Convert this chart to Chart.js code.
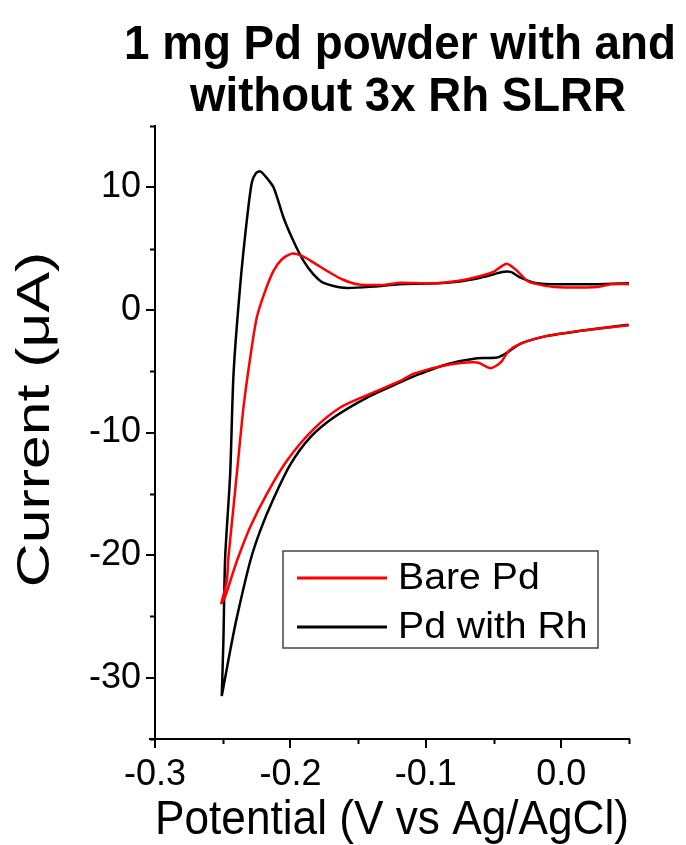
<!DOCTYPE html>
<html>
<head>
<meta charset="utf-8">
<script src="https://cdn.jsdelivr.net/npm/chart.js@4/dist/chart.umd.min.js"></script>
<style>
  html, body { margin: 0; padding: 0; background: #fff; }
  #wrap { width: 686px; height: 845px; position: relative; }
</style>
</head>
<body>
<div id="wrap"><canvas id="c" width="686" height="845"></canvas></div>
<script>
// ---- Data ----
const titleLines = ["1 mg Pd powder with and", "without 3x Rh SLRR"];
const seriesLabels = ["Bare Pd", "Pd with Rh"];
const xAxisTitle = "Potential (V vs Ag/AgCl)";
const yAxisTitle = "Current (\u03BCA)";
const xTickValues = [-0.3, -0.2, -0.1, 0.0];
const yTickValues = [-30, -20, -10, 0, 10];
const xMinorTicks = [-0.25, -0.15, -0.05, 0.05];
const yMinorTicks = [-35, -25, -15, -5, 5, 15];

// Bare Pd (potential V, current uA): anodic sweep, then (after the gap at the vertex) cathodic sweep
const bareX = [-0.2512, -0.247, -0.2458, -0.2416, -0.2396, -0.2347, -0.2297, -0.2248, -0.2186, -0.2125,
  -0.2063, -0.1989, -0.1915, -0.1829, -0.173, -0.1619, -0.1508, -0.1311, -0.1188, -0.0966,
  -0.0768, -0.0596, -0.05, -0.0404, -0.0325, -0.025, -0.0177, -0.0054, 0.0267, 0.0366, 0.05,
  0.05,
  0.05, 0.0143, -0.0103, -0.03, -0.0387, -0.0448, -0.0522, -0.0621, -0.0843, -0.1089,
  -0.1188, -0.1434, -0.1632, -0.1829, -0.2026, -0.2174, -0.2297, -0.2396, -0.2482, -0.2512];
const bareY = [-24.0, -22.1, -20.2, -15.6, -13.4, -8.0, -3.9, -0.6, 1.55, 3.18,
  4.13, 4.59, 4.4, 3.86, 3.18, 2.5, 2.1, 2.04, 2.22, 2.15,
  2.36, 2.77, 3.1, 3.77, 3.18, 2.36, 2.1, 1.87, 1.87, 2.1, 2.1,
  null,
  -1.25, -1.71, -2.12, -2.75, -3.34, -4.29, -4.75, -4.29, -4.5, -5.2,
  -5.79, -6.95, -7.96, -9.73, -12.3, -15.0, -17.7, -20.5, -23.4, -24.0];

// Pd with Rh
const rhX = [-0.2507, -0.2495, -0.2482, -0.2445, -0.242, -0.237, -0.232, -0.2285, -0.2255, -0.2223,
  -0.2185, -0.2125, -0.205, -0.1977, -0.1903, -0.183, -0.1755, -0.1607, -0.1385, -0.12,
  -0.0966, -0.0768, -0.0596, -0.0498, -0.0436, -0.0374, -0.03, -0.0202, -0.0078, 0.0267, 0.05,
  0.05,
  0.0494, 0.0143, -0.0103, -0.03, -0.0399, -0.0473, -0.0621, -0.0843, -0.1064, -0.1188,
  -0.1434, -0.1681, -0.1854, -0.2, -0.2125, -0.2223, -0.2297, -0.2396, -0.2445, -0.2482, -0.2507];
const rhY = [-31.5, -27.0, -20.2, -13.4, -5.2, 2.1, 7.5, 10.4, 11.15, 11.3,
  10.9, 10.0, 7.5, 5.6, 4.0, 2.9, 2.2, 1.8, 1.9, 2.1,
  2.15, 2.3, 2.63, 2.9, 3.1, 3.1, 2.63, 2.22, 2.1, 2.1, 2.17,
  null,
  -1.22, -1.71, -2.12, -2.75, -3.48, -3.89, -3.94, -4.43, -5.3, -5.9,
  -7.15, -8.78, -10.4, -12.6, -15.4, -18.0, -20.5, -25.1, -27.8, -30.0, -31.5];

const seriesColors = ["#ff0000", "#000000"];

function toPoints(xs, ys) { return xs.map((x, i) => ({ x: x, y: ys[i] })); }

const FONT = "'Liberation Sans', Arial, sans-serif";

// Title + y-axis title plugin
const textPlugin = {
  id: 'customText',
  afterDraw(chart) {
    const ctx = chart.ctx;
    const ca = chart.chartArea;
    const cx = (ca.left + ca.right) / 2 + 8;
    ctx.save();
    ctx.fillStyle = '#000';
    ctx.font = "bold 48px " + FONT;
    ctx.textAlign = 'center';
    ctx.textBaseline = 'alphabetic';
    ctx.fillText(titleLines[0], cx, 59, 552);
    ctx.fillText(titleLines[1], cx + 8, 111, 436);
    ctx.restore();

    // y-axis title (rotated, stretched along its length like the reference)
    ctx.save();
    ctx.fillStyle = '#000';
    ctx.font = "46px " + FONT;
    ctx.textAlign = 'center';
    ctx.textBaseline = 'middle';
    ctx.translate(36, (ca.top + ca.bottom) / 2 - 13);
    ctx.rotate(-Math.PI / 2);
    ctx.scale(1.32, 1);
    ctx.fillText(yAxisTitle, 0, 0);
    ctx.restore();
  }
};

// Minor ticks + legend box plugin
const decorPlugin = {
  id: 'decor',
  afterDraw(chart) {
    const ctx = chart.ctx;
    const xs = chart.scales.x, ys = chart.scales.y;
    const ca = chart.chartArea;
    ctx.save();
    ctx.strokeStyle = '#000';
    ctx.lineWidth = 2;
    ctx.beginPath();
    yMinorTicks.forEach(v => {
      const py = Math.round(ys.getPixelForValue(v)) + 0.5;
      ctx.moveTo(ca.left - 5, py); ctx.lineTo(ca.left, py);
    });
    xMinorTicks.forEach(v => {
      const px = Math.round(xs.getPixelForValue(v)) + 0.5;
      ctx.moveTo(px, ca.bottom); ctx.lineTo(px, ca.bottom + 5);
    });
    ctx.moveTo(ca.left - 6, ca.bottom); ctx.lineTo(ca.left, ca.bottom);
    ctx.stroke();

    // Legend box
    const bx = ca.left + 128, by = ca.top + 425, bw = 315, bh = 97;
    ctx.strokeStyle = '#444';
    ctx.lineWidth = 1.5;
    ctx.fillStyle = '#fff';
    ctx.fillRect(bx, by, bw, bh);
    ctx.strokeRect(bx, by, bw, bh);
    ctx.font = "37px " + FONT;
    ctx.textBaseline = 'middle';
    ctx.textAlign = 'left';
    chart.data.datasets.forEach((ds, i) => {
      const ry = by + 27 + i * 49;
      ctx.strokeStyle = ds.borderColor;
      ctx.lineWidth = 3;
      ctx.beginPath();
      ctx.moveTo(bx + 14, ry); ctx.lineTo(bx + 104, ry);
      ctx.stroke();
      ctx.save();
      ctx.fillStyle = '#000';
      ctx.translate(bx + 115, ry + 1);
      ctx.scale(1.06, 1);
      ctx.fillText(ds.label, 0, 0);
      ctx.restore();
    });
    ctx.restore();
  }
};

new Chart(document.getElementById('c'), {
  type: 'scatter',
  data: {
    datasets: [
      { label: seriesLabels[0], data: toPoints(bareX, bareY), showLine: true, spanGaps: false,
        borderColor: seriesColors[0], backgroundColor: seriesColors[0],
        borderWidth: 2.5, pointRadius: 0, tension: 0.25, fill: false },
      { label: seriesLabels[1], data: toPoints(rhX, rhY), showLine: true, spanGaps: false,
        borderColor: seriesColors[1], backgroundColor: seriesColors[1],
        borderWidth: 2.5, pointRadius: 0, tension: 0.25, fill: false }
    ]
  },
  options: {
    responsive: false,
    animation: false,
    devicePixelRatio: 1,
    layout: { padding: { top: 126, right: 57, left: 0, bottom: 0 } },
    plugins: {
      legend: { display: false },
      title: { display: false },
      tooltip: { enabled: false }
    },
    scales: {
      x: {
        type: 'linear',
        min: -0.3, max: 0.05,
        afterBuildTicks: s => { s.ticks = xTickValues.map(v => ({ value: v })); },
        afterFit: s => { s.height = 106; },
        ticks: {
          color: '#000', font: { family: FONT, size: 36 }, padding: 5,
          maxRotation: 0, autoSkip: false,
          callback: v => Number(v).toFixed(1)
        },
        grid: { drawOnChartArea: false, drawTicks: true, tickLength: 9, color: '#000', lineWidth: 2 },
        border: { display: true, color: '#000', width: 2 },
        title: { display: true, text: xAxisTitle, color: '#000',
          font: { family: FONT, size: 49, lineHeight: 1 }, padding: { top: 0, bottom: 0 } }
      },
      y: {
        type: 'linear',
        min: -35, max: 15,
        afterBuildTicks: s => { s.ticks = yTickValues.map(v => ({ value: v })); },
        afterFit: s => { s.width = 155; },
        ticks: {
          color: '#000', font: { family: FONT, size: 36 }, padding: 5,
          autoSkip: false,
          callback: v => String(v)
        },
        grid: { drawOnChartArea: false, drawTicks: true, tickLength: 9, color: '#000', lineWidth: 2 },
        border: { display: true, color: '#000', width: 2 },
        title: { display: false }
      }
    }
  },
  plugins: [textPlugin, decorPlugin]
});
</script>
</body>
</html>
